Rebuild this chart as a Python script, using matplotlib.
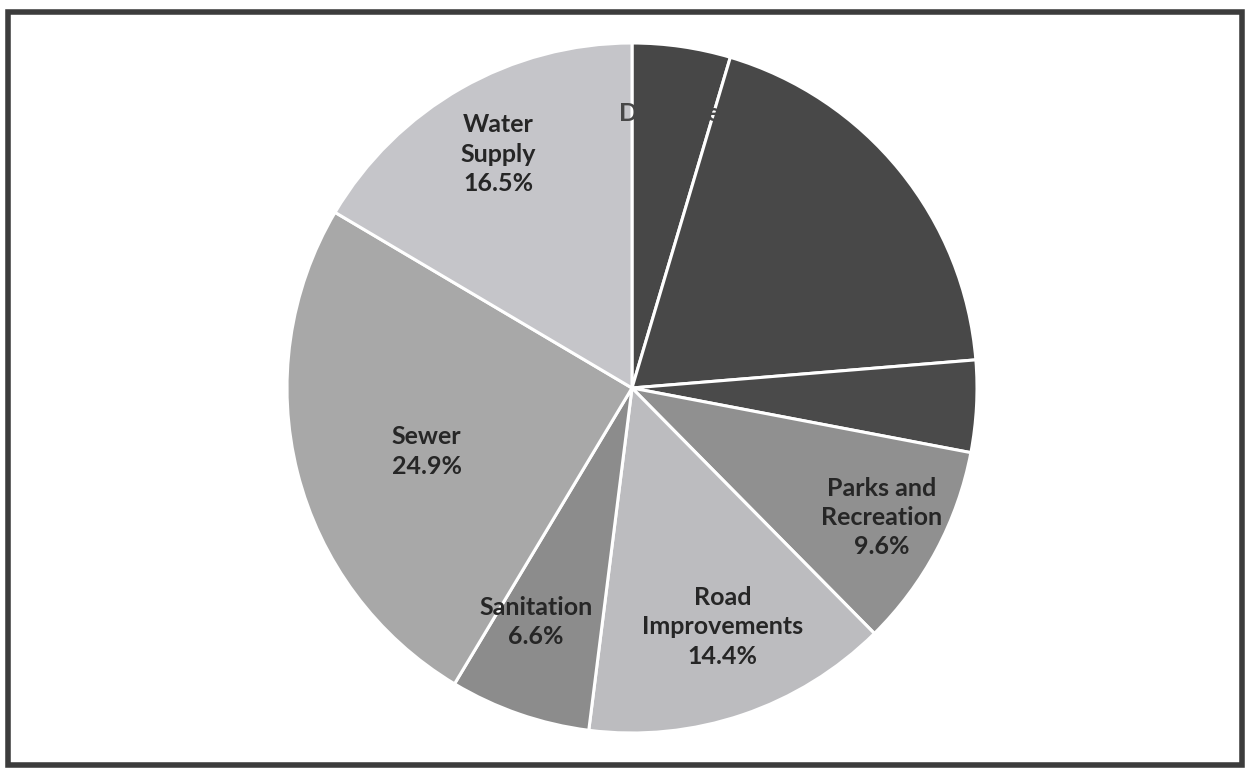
import numpy as np
import matplotlib.pyplot as plt
from matplotlib.patches import Rectangle

# Slice data, clockwise from 12 o'clock
categories = ['Drainage', 'Other A', 'Other B', 'Parks and\nRecreation',
              'Road\nImprovements', 'Sanitation', 'Sewer', 'Water\nSupply']
shares = [4.6, 19.1, 4.3, 9.6, 14.4, 6.6, 24.9, 16.5]
show_label = [True, False, False, True, True, True, True, True]
colors = ['#474747', '#484848', '#4a4a4a', '#909090',
          '#bcbcbf', '#8c8c8c', '#a8a8a8', '#c5c5c9']
# label colour: dark slices hide their (dark) labels, as in the source
text_colors = ['#474747', '#484848', '#4a4a4a', '#262626',
               '#262626', '#262626', '#262626', '#262626']
# label placement: fraction of radius, and small turn off the mid angle (deg)
label_dist = [0.76, 0.70, 0.80, 0.815, 0.74, 0.733, 0.623, 0.78]
label_turn = [0, 0, 0, 0.7, 2, -3.3, 3, 0]

plt.rcParams['font.family'] = ['Lato', 'DejaVu Sans']

fig = plt.figure(figsize=(12.5, 7.74), dpi=100)
ax = fig.add_axes([0, 0, 1, 1])

cx, cy, r = 632, 386, 345
wedges, _ = ax.pie(shares, colors=colors, startangle=90, counterclock=False,
                   center=(cx, cy), radius=r, frame=True,
                   wedgeprops=dict(edgecolor='white', linewidth=2.2))
ax.set_xlim(0, 1250)
ax.set_ylim(0, 774)
ax.set_aspect('equal')
ax.axis('off')

for w, name, val, show, d, t, tc in zip(wedges, categories, shares, show_label,
                                        label_dist, label_turn, text_colors):
    if not show:
        continue
    ang = np.deg2rad((w.theta1 + w.theta2) / 2 + t)
    x = cx + d * r * np.cos(ang)
    y = cy + d * r * np.sin(ang)
    ax.text(x, y, f'{name}\n{val:.1f}%', ha='center', va='center',
            fontsize=18, fontweight='bold', color=tc, linespacing=1.33)

# dark frame around the chart
ax.add_patch(Rectangle((8, 9), 1234, 753, fill=False, edgecolor='#3c3c3c',
                       linewidth=4, clip_on=False))

fig.savefig('out.png', dpi=100)
